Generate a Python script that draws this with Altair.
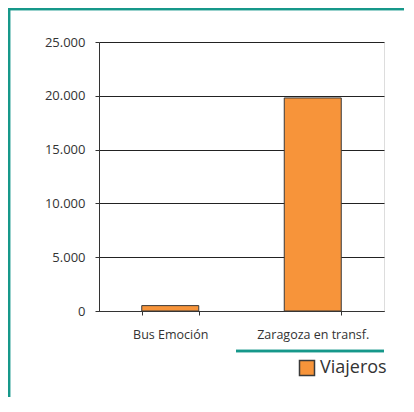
import altair as alt
import pandas as pd

categories = ["Bus Emoción", "Zaragoza en transf."]
values = [500, 19800]
series = ["Viajeros", "Viajeros"]

df = pd.DataFrame({"cat": categories, "val": values, "serie": series})

TEAL = "#16988a"
ORANGE = "#f7943a"
FONT = "Open Sans"

W, H = 285, 269

x = alt.X("cat:N", sort=categories, title=None,
          scale=alt.Scale(paddingInner=0.6, paddingOuter=0.3),
          axis=alt.Axis(labelAngle=0, tickBand="extent", labelFontSize=12.5,
                        labelColor="#333333", labelFont=FONT, labelPadding=13,
                        domainColor="#333333", tickColor="#333333", tickSize=4,
                        grid=False))
y = alt.Y("val:Q", title=None,
          scale=alt.Scale(domain=[0, 25000], nice=False),
          axis=alt.Axis(values=[0, 5000, 10000, 15000, 20000, 25000],
                        labelExpr="replace(format(datum.value, ','), ',', '.')",
                        labelFontSize=13, labelColor="#333333", labelFont=FONT,
                        labelPadding=10, tickSize=4, tickColor="#333333",
                        domainColor="#333333", gridColor="#222222",
                        gridOpacity=1, grid=True))

bars = alt.Chart(df).mark_bar(stroke="#3a3a3a", strokeWidth=1).encode(
    x=x, y=y,
    color=alt.Color("serie:N", scale=alt.Scale(range=[ORANGE]),
                    legend=alt.Legend(title=None, orient="none", legendX=199, legendY=317,
                                      symbolType="square", symbolSize=225,
                                      symbolStrokeColor="#3a3a3a", symbolStrokeWidth=1.5,
                                      labelFontSize=18, labelFont=FONT, labelColor="#333333",
                                      labelOffset=4)),
)

legend_line = alt.Chart(df).mark_rule(color=TEAL, strokeWidth=2.5).encode(
    x=alt.value(137), x2=alt.value(W), y=alt.value(309))

border_top = alt.Chart(df).mark_rule(color=TEAL, strokeWidth=2.5).encode(
    x=alt.value(-91), x2=alt.value(W + 40), y=alt.value(-33))
border_left = alt.Chart(df).mark_rule(color=TEAL, strokeWidth=2.5).encode(
    x=alt.value(-90), y=alt.value(-34), y2=alt.value(H + 110))

chart = alt.layer(bars, legend_line, border_top, border_left).properties(
    width=W, height=H,
    padding={"left": 91, "top": 34, "right": 20, "bottom": 86},
    autosize=alt.AutoSizeParams(type="none"),
).configure_view(stroke="#222222", strokeWidth=1).configure(background="white")

chart.save("out.html", embed_options={"renderer": "svg", "actions": False})
